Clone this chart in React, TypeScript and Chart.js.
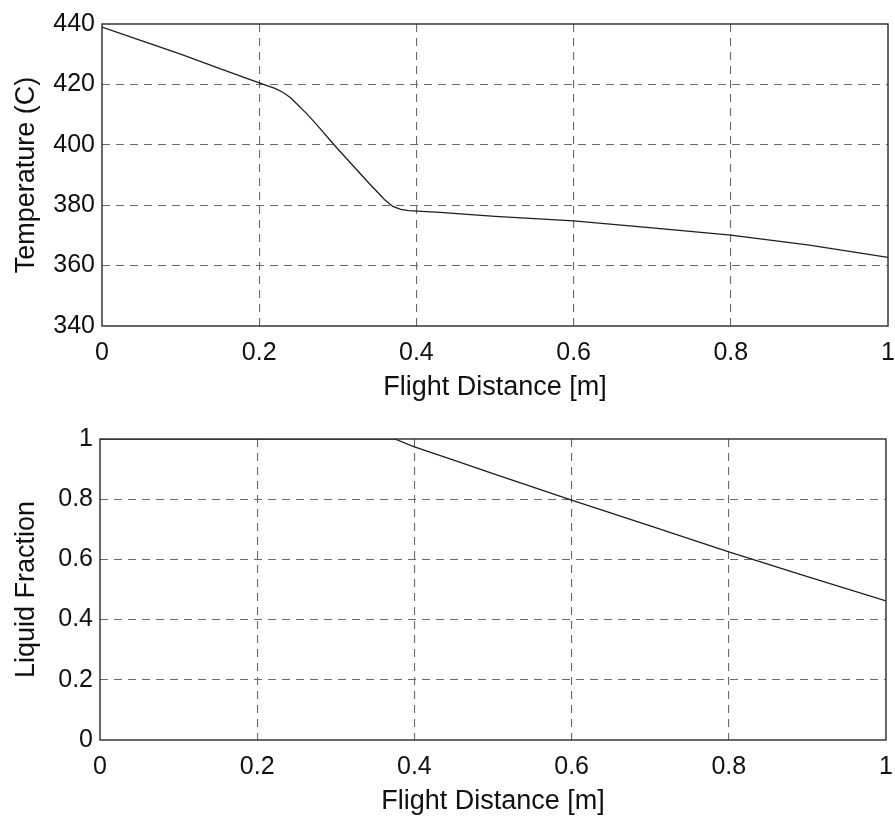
import React, { useEffect, useRef } from 'react';
import { Chart, registerables } from 'chart.js';

Chart.register(...registerables);

// ---- data ----
const tempDistance = [0, 0.05, 0.1, 0.15, 0.2, 0.21, 0.22, 0.23, 0.24, 0.25, 0.26, 0.27, 0.28, 0.29, 0.3, 0.32, 0.34, 0.36, 0.37, 0.38, 0.39, 0.43, 0.5, 0.6, 0.7, 0.8, 0.9, 1.0];
const temperature = [439, 434.5, 430, 425.2, 420.5, 419.6, 418.7, 417.4, 415.6, 413.0, 410.4, 407.6, 404.6, 401.6, 398.6, 392.9, 387.2, 381.7, 379.6, 378.6, 378.2, 377.6, 376.3, 374.8, 372.5, 370.1, 366.8, 362.7];

const fracDistance = [0, 0.375, 0.4, 0.45, 0.5, 0.6, 0.7, 0.8, 0.9, 1.0];
const liquidFraction = [1, 1, 0.974, 0.93, 0.885, 0.797, 0.711, 0.625, 0.543, 0.462];

const xTicks = [0, 0.2, 0.4, 0.6, 0.8, 1];
const xTickLabels = ['0', '0.2', '0.4', '0.6', '0.8', '1'];
const tempTicks = [340, 360, 380, 400, 420, 440];
const tempTickLabels = ['340', '360', '380', '400', '420', '440'];
const fracTicks = [0, 0.2, 0.4, 0.6, 0.8, 1];
const fracTickLabels = ['0', '0.2', '0.4', '0.6', '0.8', '1'];

const xTitle = 'Flight Distance [m]';
const tempTitle = 'Temperature (C)';
const fracTitle = 'Liquid Fraction';

const FONT = "'Liberation Sans', Arial, Helvetica, sans-serif";

const framePlugin = {
  id: 'frame',
  afterDraw(chart: any) {
    const { ctx, chartArea } = chart;
    ctx.save();
    ctx.strokeStyle = '#2a2a2a';
    ctx.lineWidth = 1.4;
    ctx.setLineDash([]);
    ctx.strokeRect(chartArea.left, chartArea.top, chartArea.right - chartArea.left, chartArea.bottom - chartArea.top);
    ctx.restore();
  },
};

function gridColor(count: number) {
  return (ctx: any) => (ctx.index === 0 || ctx.index === count - 1 ? 'rgba(0,0,0,0)' : '#6a6a6a');
}

function makeConfig(p: {
  xs: number[];
  ys: number[];
  yTicks: number[];
  yLabels: string[];
  yTitle: string;
  yWidth: number;
  xHeight: number;
  padTop: number;
  padRight: number;
  xTitlePad: number;
  yTitlePad: number;
}) {
  const data = p.xs.map((x, i) => ({ x, y: p.ys[i] }));
  return {
    type: 'line' as const,
    data: {
      datasets: [
        {
          data,
          borderColor: '#1e1e1e',
          borderWidth: 1.3,
          pointRadius: 0,
          tension: 0,
          fill: false,
        },
      ],
    },
    options: {
      animation: false,
      responsive: false,
      layout: { padding: { top: p.padTop, right: p.padRight, left: 0, bottom: 0 } },
      plugins: { legend: { display: false }, tooltip: { enabled: false } },
      scales: {
        x: {
          type: 'linear',
          min: 0,
          max: 1,
          afterBuildTicks: (scale: any) => {
            scale.ticks = xTicks.map((v) => ({ value: v }));
          },
          afterFit: (scale: any) => {
            scale.height = p.xHeight;
            scale.paddingLeft = 0;
            scale.paddingRight = 0;
          },
          ticks: {
            callback: (_v: any, i: number) => xTickLabels[i],
            font: { family: FONT, size: 25 },
            color: '#111',
            padding: 12,
            maxRotation: 0,
            autoSkip: false,
          },
          grid: { color: gridColor(xTicks.length), lineWidth: 1.1, drawTicks: false },
          border: { display: false, dash: [8, 6] },
          title: {
            display: true,
            text: xTitle,
            font: { family: FONT, size: 27, lineHeight: 1 },
            color: '#111',
            padding: { top: 0, bottom: p.xTitlePad },
          },
        },
        y: {
          type: 'linear',
          min: p.yTicks[0],
          max: p.yTicks[p.yTicks.length - 1],
          afterBuildTicks: (scale: any) => {
            scale.ticks = p.yTicks.map((v) => ({ value: v }));
          },
          afterFit: (scale: any) => {
            scale.width = p.yWidth;
            scale.paddingTop = 0;
            scale.paddingBottom = 0;
          },
          ticks: {
            callback: (_v: any, i: number) => p.yLabels[i],
            font: { family: FONT, size: 25 },
            color: '#111',
            padding: 7,
            autoSkip: false,
          },
          grid: { color: gridColor(p.yTicks.length), lineWidth: 1.1, drawTicks: false },
          border: { display: false, dash: [8, 6] },
          title: {
            display: true,
            text: p.yTitle,
            font: { family: FONT, size: 27, lineHeight: 1 },
            color: '#111',
            padding: { top: p.yTitlePad, bottom: 0 },
          },
        },
      },
    },
    plugins: [framePlugin],
  };
}

export default function App() {
  const topRef = useRef<HTMLCanvasElement | null>(null);
  const botRef = useRef<HTMLCanvasElement | null>(null);

  useEffect(() => {
    const top = new Chart(
      topRef.current as HTMLCanvasElement,
      makeConfig({
        xs: tempDistance,
        ys: temperature,
        yTicks: tempTicks,
        yLabels: tempTickLabels,
        yTitle: tempTitle,
        yWidth: 102,
        xHeight: 75,
        padTop: 24,
        padRight: 7,
        xTitlePad: 0,
        yTitlePad: 13,
      }) as any
    );
    const bot = new Chart(
      botRef.current as HTMLCanvasElement,
      makeConfig({
        xs: fracDistance,
        ys: liquidFraction,
        yTicks: fracTicks,
        yLabels: fracTickLabels,
        yTitle: fracTitle,
        yWidth: 100,
        xHeight: 83,
        padTop: 38,
        padRight: 9,
        xTitlePad: 8,
        yTitlePad: 13,
      }) as any
    );
    return () => {
      top.destroy();
      bot.destroy();
    };
  }, []);

  return (
    <div style={{ position: 'absolute', left: 0, top: 0, width: 895, height: 823, background: '#fff' }}>
      <canvas ref={topRef} width={895} height={401} style={{ position: 'absolute', left: 0, top: 0 }} />
      <canvas ref={botRef} width={895} height={422} style={{ position: 'absolute', left: 0, top: 401 }} />
    </div>
  );
}
